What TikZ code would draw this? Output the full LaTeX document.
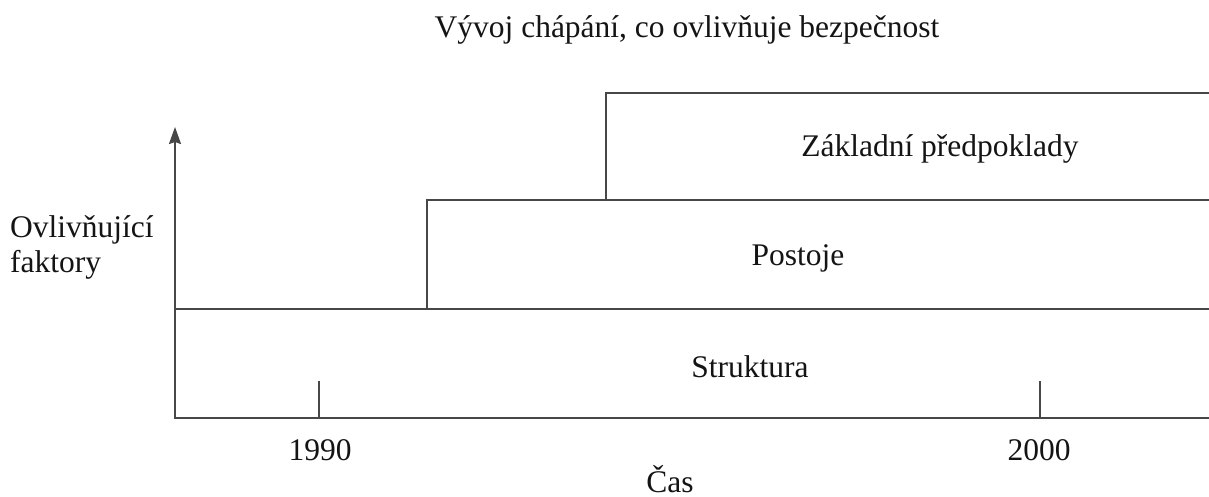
\documentclass[tikz,border=0pt]{standalone}
\usepackage{fontspec}
\setmainfont{Liberation Serif}
\usetikzlibrary{arrows.meta}
\begin{document}
\begin{tikzpicture}[x=1pt,y=-1pt,
  ln/.style={line width=2pt,draw=black!72,line cap=rect},
  lbl/.style={inner sep=0pt,anchor=base,font=\fontsize{31.5}{35}\selectfont,text=black!92}]
\useasboundingbox (0,0) rectangle (1209,497);
% coordinates
\coordinate (o) at (175,418);
\coordinate (top) at (175,127);
\coordinate (br) at (1209,418);
\coordinate (s1) at (175,309);
\coordinate (s2) at (1209,309);
\coordinate (p0) at (427,309);
\coordinate (p1) at (427,200);
\coordinate (p2) at (1209,200);
\coordinate (z0) at (606,200);
\coordinate (z1) at (606,93);
\coordinate (z2) at (1209,93);
\coordinate (t1a) at (319,418);
\coordinate (t1b) at (319,381);
\coordinate (t2a) at (1040,418);
\coordinate (t2b) at (1040,381);
% axes
\draw[ln] (br) -- (o);
\draw[ln,line cap=butt,-{Stealth[length=17pt,width=12pt,inset=2pt]}] (o) -- (top);
\draw[ln] (s1) -- (s2);
\draw[ln] (p0) -- (p1) -- (p2);
\draw[ln] (z0) -- (z1) -- (z2);
\draw[ln,line cap=butt] (t1a) -- (t1b);
\draw[ln,line cap=butt] (t2a) -- (t2b);
% texts
\node[lbl] (title) at (687,38) {Vývoj chápání, co ovlivňuje bezpečnost};
\node[lbl] (zak) at (940,157) {Základní předpoklady};
\node[lbl] (pos) at (798,265) {Postoje};
\node[lbl] (str) at (750,377) {Struktura};
\node[lbl] (y1) at (320,460) {1990};
\node[lbl] (y2) at (1039,460) {2000};
\node[lbl] (cas) at (670,492) {Čas};
\node[lbl,anchor=base west] (f1) at (10,237) {Ovlivňující};
\node[lbl,anchor=base west] (f2) at (10,272) {faktory};
\end{tikzpicture}
\end{document}
